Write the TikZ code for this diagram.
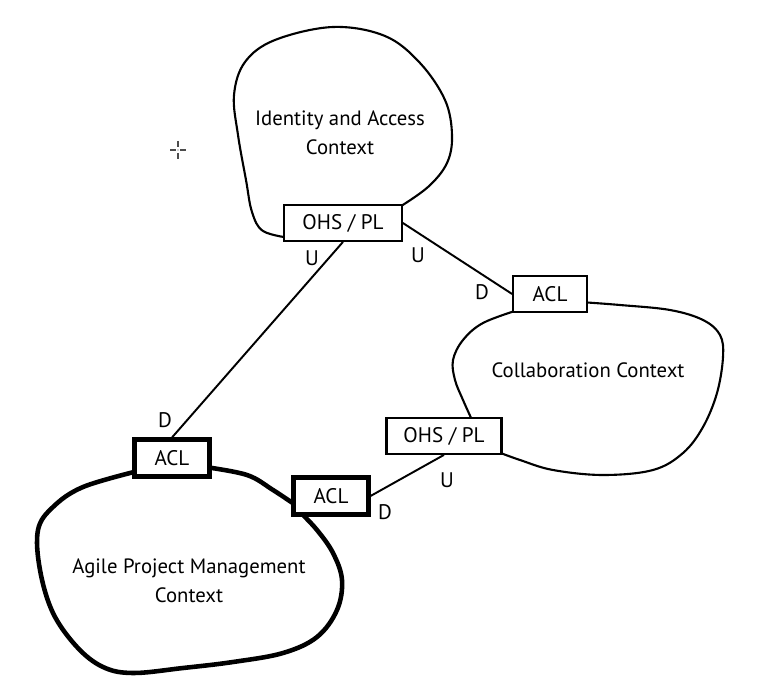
\documentclass[tikz,border=0pt]{standalone}
\usepackage{fontspec}
\setmainfont{PT Sans}

\begin{document}
\begin{tikzpicture}[
		x = 0.02cm, y = -0.02cm,
		bound/.style={line width=1.2pt, line join=round, line cap=round},
		core/.style={line width=2.6pt, line join=round, line cap=round},
		link/.style={line width=1.1pt},
		port/.style={draw, fill=white, line width=1.3pt, minimum width=2.35cm, minimum height=0.71cm, inner sep=0pt, font=\fontsize{12}{14}\selectfont},
		acl/.style={port, minimum width=1.47cm},
		thickacl/.style={port, line width=2.6pt, minimum width=1.49cm, minimum height=0.73cm},
		tag/.style={inner sep=0pt, font=\fontsize{12}{14}\selectfont},
		title/.style={align=center, font=\fontsize{11.8}{16.5}\selectfont},
		]

	\useasboundingbox (0,0) rectangle (766,685);

	\draw[bound] plot[smooth, tension=0.6] coordinates {(290,238) (263,231) (252,212) (246,180) (238,135) (234,95) (245,62) (275,40) (333,27) (385,36) (420,63) (445,100) (452,135) (447,163) (428,187) (398,208)};
	\draw[bound] plot[smooth, tension=0.6] coordinates {(580,302) (620,305) (670,310) (703,320) (720,335) (723,357) (717,393) (703,427) (683,453) (653,470) (603,475) (553,470) (520,460) (498,452)};
	\draw[bound] plot[smooth, tension=0.6] coordinates {(518,310) (483,323) (463,340) (453,360) (455,380) (463,400) (472,420)};
	\draw[core] plot[smooth, tension=0.6] coordinates {(138,471) (83,487) (53,507) (38,530) (40,570) (53,613) (77,647) (103,667) (133,673) (183,668) (233,662) (283,653) (317,637) (337,610) (342,580) (333,553) (317,530) (300,512)};
	\draw[core] plot[smooth, tension=0.6] coordinates {(205,467) (247,475) (273,490) (297,506)};

	\node (IAM) [title] at (340,133) {Identity and Access\\Context};
	\node (COL) [title] at (588,370) {Collaboration Context};
	\node (APM) [title] at (189,581) {Agile Project Management\\Context};

	\node (OHS1) [port] at (343,223) {OHS / PL};
	\node (ACL2) [acl] at (550,294) {ACL};
	\node (OHS2) [port, minimum width=2.3cm] at (444,436) {OHS / PL};
	\node (ACL1) [thickacl] at (172,458) {ACL};
	\node (ACL3) [thickacl] at (331,496) {ACL};

	\draw[link] (OHS1.south) -- (ACL1.north);
	\draw[link] (OHS1.east) -- (ACL2.west);
	\draw[link] (OHS2.south) -- (ACL3.east);

	\node (U1) [tag] at (312,258) {U};
	\node (U2) [tag] at (418,255) {U};
	\node (D1) [tag] at (482,292) {D};
	\node (D2) [tag] at (165,420) {D};
	\node (U3) [tag] at (447,480) {U};
	\node (D3) [tag] at (385,512) {D};

	\draw[gray!60!black, line width=0.6pt] (170,150) -- (176,150) (180,150) -- (186,150)
		(178,141) -- (178,147) (178,153) -- (178,159);
	\fill[gray!60!black] (178,150) circle (0.6);
\end{tikzpicture}
\end{document}
